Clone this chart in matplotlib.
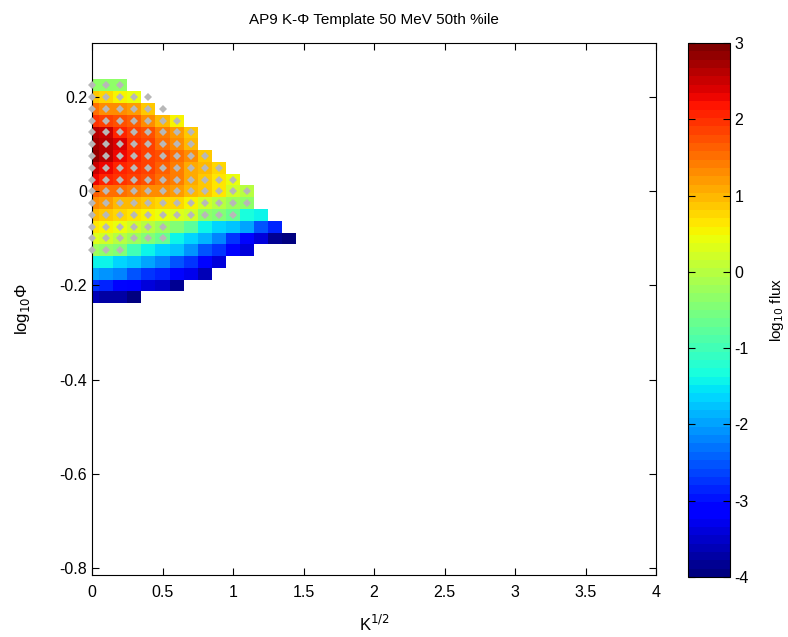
import numpy as np
import matplotlib
matplotlib.use('Agg')
import matplotlib.pyplot as plt

plt.rcParams['font.family'] = ['Liberation Sans', 'DejaVu Sans']
plt.rcParams['font.size'] = 11
plt.rcParams['axes.unicode_minus'] = False

# Grid of the template: K^(1/2) columns and log10(Phi) rows
k_half = [0.0, 0.1, 0.2, 0.3, 0.4, 0.5, 0.6, 0.7, 0.8, 0.9, 1.0, 1.1, 1.2, 1.3, 1.4]
log_phi = [0.225, 0.2, 0.175, 0.15, 0.125, 0.1, 0.075, 0.05, 0.025, 0.0,
           -0.025, -0.05, -0.075, -0.1, -0.125, -0.15, -0.175, -0.2, -0.225]

# log10 flux per row (top row first), starting at K^(1/2) = 0
flux_rows = [
    [-0.3, -0.3, -0.3],
    [0.9, 0.75, 0.55, 0.4],
    [1.5, 1.3, 1.25, 1.15, 0.9],
    [2.0, 1.85, 1.7, 1.6, 1.25, 1.0, 0.5],
    [2.6, 2.5, 2.1, 1.9, 1.7, 1.4, 1.15, 0.9],
    [2.7, 2.6, 2.4, 2.0, 1.8, 1.5, 1.25, 1.0],
    [2.8, 2.6, 2.3, 2.1, 1.9, 1.7, 1.5, 1.25, 0.9],
    [2.5, 2.3, 2.1, 2.0, 1.8, 1.6, 1.4, 1.1, 0.95, 0.8],
    [2.3, 2.1, 2.0, 1.9, 1.7, 1.5, 1.4, 1.1, 0.85, 0.65, 0.4],
    [1.6, 1.5, 1.5, 1.4, 1.3, 1.25, 1.15, 1.0, 0.9, 0.65, 0.2, 0.0],
    [1.25, 1.15, 1.0, 1.0, 0.9, 0.8, 0.75, 0.55, 0.2, 0.0, -0.2, -0.35],
    [1.0, 0.9, 0.8, 0.65, 0.55, 0.4, 0.3, 0.2, -0.3, -0.5, -0.7, -1.3, -1.4],
    [0.65, 0.55, 0.4, 0.2, 0.0, -0.2, -0.5, -0.8, -1.4, -1.6, -1.8, -2.0, -2.5, -2.9],
    [0.35, 0.2, 0.0, -0.2, -0.5, -0.7, -1.4, -1.6, -1.9, -2.25, -2.7, -3.1, -3.45, -3.8, -3.95],
    [-0.2, -0.3, -0.5, -0.95, -1.4, -1.6, -1.8, -2.1, -2.5, -2.7, -3.1, -3.45],
    [-1.4, -1.4, -1.6, -1.8, -2.0, -2.25, -2.5, -2.7, -3.1, -3.45],
    [-2.0, -2.1, -2.25, -2.5, -2.7, -2.9, -3.1, -3.3, -3.65],
    [-2.7, -2.9, -3.1, -3.2, -3.35, -3.55, -3.8],
    [-3.65, -3.75, -3.75, -3.9],
]

# number of sampled points (grey markers) in each row, from K^(1/2) = 0
marker_counts = [3, 5, 6, 7, 8, 8, 9, 10, 11, 12, 12, 11, 6, 6, 3, 0, 0, 0, 0]

# build masked grid
grid = np.full((len(log_phi), len(k_half)), np.nan)
for i, row in enumerate(flux_rows):
    grid[i, :len(row)] = row
grid = np.ma.masked_invalid(grid)

dx = 0.1
dy = 0.025
x_edges = np.append(np.array(k_half) - dx / 2, k_half[-1] + dx / 2)
y_edges = np.append(np.array(log_phi) + dy / 2, log_phi[-1] - dy / 2)

fig = plt.figure(figsize=(7.88, 6.37), dpi=100)
ax = fig.add_axes([0.1168, 0.0973, 0.7157, 0.8352])
cax = fig.add_axes([0.873, 0.0942, 0.053, 0.8383])

cmap = plt.get_cmap('jet', 64)
mesh = ax.pcolormesh(x_edges, y_edges, grid, cmap=cmap, vmin=-4, vmax=3)

# grey markers at the sampled points
px, py = [], []
for i, n in enumerate(marker_counts):
    for j in range(n):
        px.append(k_half[j])
        py.append(log_phi[i])
ax.plot(px, py, 'D', color='#b8b8b8', markersize=3.6, markeredgewidth=0,
        clip_on=False, zorder=3)

ax.set_xlim(0, 4)
ax.set_ylim(-0.815, 0.315)
ax.set_xticks([0, 0.5, 1, 1.5, 2, 2.5, 3, 3.5, 4])
ax.set_xticklabels(['0', '0.5', '1', '1.5', '2', '2.5', '3', '3.5', '4'])
ax.set_yticks([-0.8, -0.6, -0.4, -0.2, 0, 0.2])
ax.set_yticklabels(['-0.8', '-0.6', '-0.4', '-0.2', '0', '0.2'])
ax.tick_params(direction='in', top=True, right=True, length=5, width=0.8,
               labelsize=11.5)
ax.tick_params(axis='x', pad=7)
for s in ax.spines.values():
    s.set_linewidth(0.8)

ax.set_title('AP9 K-\u03a6 Template 50 MeV 50th %ile', fontsize=11, pad=14)
ax.set_xlabel('K$^{1/2}$', fontsize=12, labelpad=10)
ax.set_ylabel('log$_{10}$\u03a6', fontsize=12, labelpad=20)

cb = fig.colorbar(mesh, cax=cax, ticks=[-4, -3, -2, -1, 0, 1, 2, 3])
cb.ax.set_yticklabels(['-4', '-3', '-2', '-1', '0', '1', '2', '3'])
cb.ax.tick_params(direction='in', left=True, right=True, length=5, width=0.8,
                  labelsize=11.5)
cb.outline.set_linewidth(0.8)
cb.set_label('log$_{10}$ flux', fontsize=11, labelpad=14)

fig.savefig('out.png', dpi=100)
